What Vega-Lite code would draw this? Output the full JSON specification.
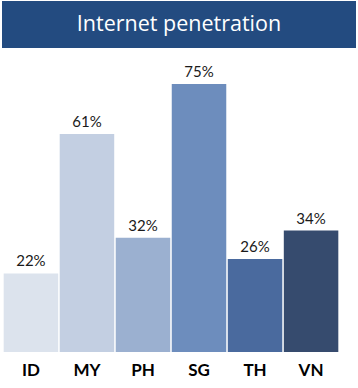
{
  "$schema": "https://vega.github.io/schema/vega-lite/v6.json",
  "padding": {"left": 2, "top": 1, "right": 0, "bottom": 0},
  "background": "white",
  "bounds": "flush",
  "config": {"view": {"stroke": null}, "concat": {"spacing": 36}},
  "vconcat": [
    {
      "width": 354,
      "height": 47,
      "view": {"fill": "#234b80", "stroke": null},
      "data": {"values": [{"title": "Internet penetration"}]},
      "mark": {"type": "text", "color": "white", "font": "Open Sans", "fontSize": 21.5, "align": "center", "baseline": "middle"},
      "encoding": {"text": {"field": "title"}}
    },
    {
      "width": 338,
      "height": 268,
      "data": {"values": [
        {"country": "ID", "pct": 22, "label": "22%"},
        {"country": "MY", "pct": 61, "label": "61%"},
        {"country": "PH", "pct": 32, "label": "32%"},
        {"country": "SG", "pct": 75, "label": "75%"},
        {"country": "TH", "pct": 26, "label": "26%"},
        {"country": "VN", "pct": 34, "label": "34%"}
      ]},
      "encoding": {
        "x": {"field": "country", "type": "nominal", "sort": null,
          "scale": {"paddingInner": 0.027, "paddingOuter": 0.03},
          "axis": {"title": null, "domain": false, "ticks": false, "labelAngle": 0, "labelFont": "Lato", "labelFontWeight": "bold", "labelFontSize": 17, "labelColor": "#000000", "labelPadding": 10}},
        "y": {"field": "pct", "type": "quantitative", "scale": {"domain": [0, 75], "nice": false, "zero": true}, "axis": null}
      },
      "layer": [
        {
          "mark": {"type": "bar"},
          "encoding": {
            "color": {"field": "country", "type": "nominal", "sort": null, "legend": null,
              "scale": {"domain": ["ID", "MY", "PH", "SG", "TH", "VN"], "range": ["#dce3ed", "#c3cfe2", "#9bb0d0", "#6d8dbd", "#4a6a9e", "#364b6e"]}}
          }
        },
        {
          "mark": {"type": "text", "font": "Lato", "fontSize": 15, "color": "#1a1a1a", "baseline": "alphabetic", "dy": -7},
          "encoding": {"text": {"field": "label"}}
        }
      ]
    }
  ]
}
